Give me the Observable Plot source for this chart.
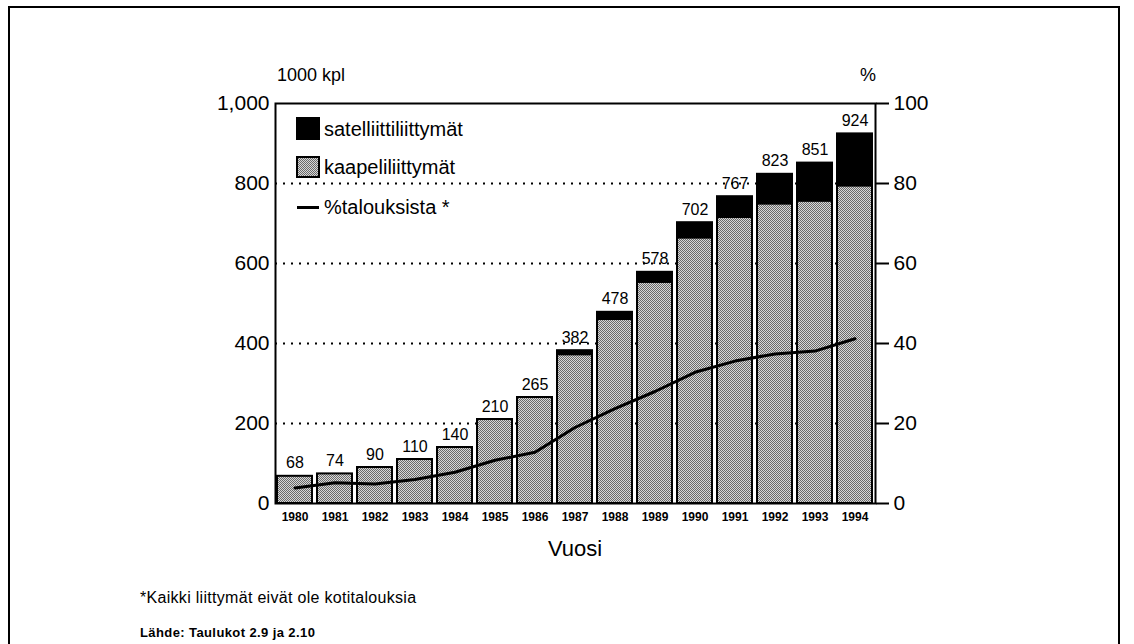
<!DOCTYPE html>
<html><head><meta charset="utf-8">
<script src="https://cdn.jsdelivr.net/npm/d3@7"></script>
<script src="https://cdn.jsdelivr.net/npm/@observablehq/plot@0.6"></script>
<style>
body{margin:0;background:#fff;font-family:"Liberation Sans",Arial,sans-serif;}
#wrap{position:relative;width:1134px;height:644px;overflow:hidden;background:#fff;}
#border{position:absolute;left:8px;top:6px;width:1112px;height:640px;border:2px solid #000;box-sizing:border-box;}
#chart{position:absolute;left:0;top:0;}
.t{position:absolute;white-space:nowrap;color:#000;line-height:1;}
</style></head><body>
<svg width="0" height="0" style="position:absolute">
  <defs>
    <pattern id="halftone" width="2" height="2" patternUnits="userSpaceOnUse">
      <rect width="2" height="2" fill="#d8d8d8"/>
      <rect x="0" y="0" width="1" height="1" fill="#6a6a6a"/>
      <rect x="1" y="1" width="1" height="1" fill="#6a6a6a"/>
    </pattern>
  </defs>
</svg>
<div id="wrap">
  <div id="border"></div>
  <div id="chart"></div>
  <div class="t" style="left:277px;top:66px;font-size:18px">1000 kpl</div>
  <div class="t" style="left:860px;top:66px;font-size:18px">%</div>
  <div class="t" style="left:548px;top:538px;font-size:22px">Vuosi</div>
  <div class="t" style="left:140px;top:590px;font-size:16px;letter-spacing:0.3px">*Kaikki liittymät eivät ole kotitalouksia</div>
  <div class="t" style="left:140px;top:626px;font-size:13px;font-weight:bold;letter-spacing:0.4px">Lähde: Taulukot 2.9 ja 2.10</div>
  <!-- legend -->
  <div style="position:absolute;left:296px;top:117px;width:24px;height:23px;background:#000"></div>
  <div class="t" style="left:324px;top:119px;font-size:20px">satelliittiliittymät</div>
  <svg style="position:absolute;left:296px;top:156px" width="24" height="22"><rect x="1" y="1" width="22" height="20" fill="url(#halftone)" stroke="#000" stroke-width="2"/></svg>
  <div class="t" style="left:324px;top:157px;font-size:20px">kaapeliliittymät</div>
  <div style="position:absolute;left:297px;top:206px;width:22px;height:3px;background:#000"></div>
  <div class="t" style="left:324px;top:197px;font-size:20px">%talouksista *</div>
</div>
<script>
const years = ["1980","1981","1982","1983","1984","1985","1986","1987","1988","1989","1990","1991","1992","1993","1994"];
const totals = [68,74,90,110,140,210,265,382,478,578,702,767,823,851,924];
const cable = [68,74,90,110,140,210,265,372,460,553,664,715,749,756,794];
const satellite = [0,0,0,0,0,0,0,10,18,25,38,52,74,95,130];
const pctHouseholds = [3.9,5.2,4.9,6.0,7.8,10.8,12.8,19.0,23.7,28.0,32.8,35.6,37.4,38.1,41.2];
const leftTicks = [0,200,400,600,800,1000];
const gridLines = [200,400,600,800];

const chart = Plot.plot({
  width: 1134, height: 644,
  marginLeft: 275, marginRight: 259, marginTop: 103, marginBottom: 141,
  x: {domain: years, paddingInner: 0.12, paddingOuter: 0.05, label: null},
  y: {domain: [0, 1000], label: null},
  style: {fontFamily: '"Liberation Sans", Arial, sans-serif', background: "transparent", color: "#000"},
  marks: [
    Plot.ruleY(gridLines, {stroke: "#000", strokeWidth: 2, strokeDasharray: "2,6"}),
    Plot.barY(cable, {x: years, y1: 0, y2: cable, fill: "url(#halftone)", stroke: "#000", strokeWidth: 2}),
    Plot.barY(satellite, {x: years, y1: cable, y2: totals, fill: "#000", stroke: "#000", strokeWidth: 2}),
    Plot.text(totals, {x: years, y: totals, text: d => String(d), dy: -13, fontSize: 16, fill: "#000"}),
    Plot.line(pctHouseholds, {x: years, y: pctHouseholds.map(p => p * 10), stroke: "#000", strokeWidth: 3}),
    Plot.axisY({anchor: "left", ticks: leftTicks, tickFormat: d3.format(","), tickSize: 0, tickPadding: 6, fontSize: 21, label: null}),
    Plot.axisY({anchor: "right", ticks: leftTicks, tickFormat: d => String(d / 10), tickSize: 13, tickPadding: 5, fontSize: 21, strokeWidth: 2, label: null}),
    Plot.axisX({tickSize: 0, tickPadding: 9, fontSize: 12, fontWeight: "bold", label: null}),
    Plot.frame({stroke: "#000", strokeWidth: 2})
  ]
});
document.getElementById("chart").appendChild(chart);
</script>
</body></html>
